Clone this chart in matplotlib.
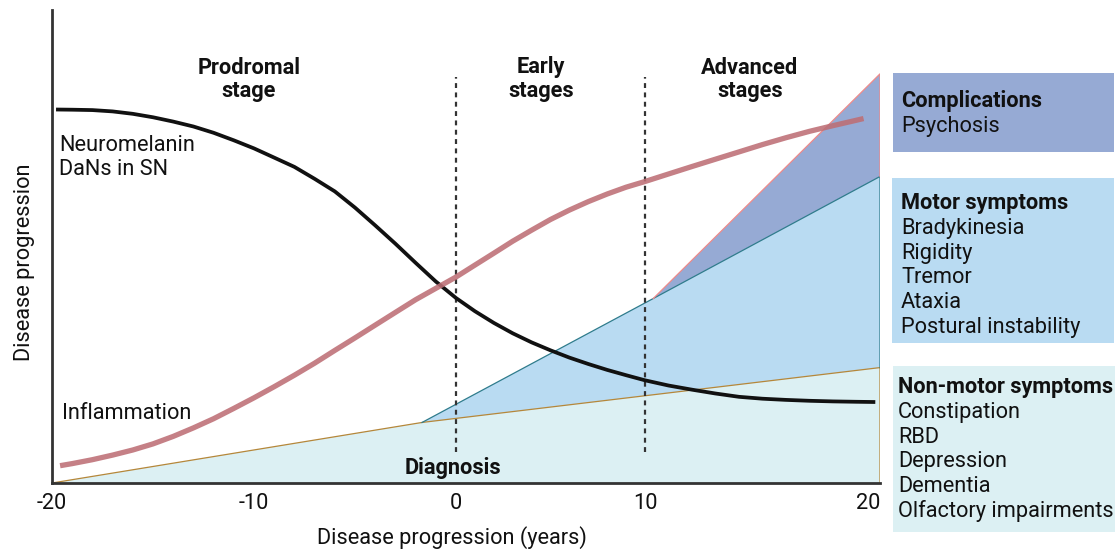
import numpy as np
import matplotlib
matplotlib.use("Agg")
import matplotlib.pyplot as plt
from matplotlib.patches import Rectangle

plt.rcParams['font.family'] = ['Roboto', 'DejaVu Sans']

# ---------------- data ----------------
tick_years = [-20, -10, 0, 10, 20]
tick_labels = ['-20', '-10', '0', '10', '20']
stage_bounds = [0, 10]

dans_x = [-19.8] + list(range(-19, 20)) + [19.8]
dans_y = [78.96, 78.92, 78.84, 78.56, 78.05, 77.32, 76.41, 75.37, 74.04, 72.45,
          70.74, 68.79, 66.83, 64.31, 61.65, 58.22, 54.46, 50.59, 46.55, 42.60,
          39.11, 36.32, 33.85, 31.65, 29.73, 28.05, 26.51, 25.16, 23.91, 22.79,
          21.71, 20.61, 19.73, 18.92, 18.22, 17.82, 17.57, 17.38, 17.25, 17.17,
          17.12]

infl_x = [-19.6] + list(range(-19, 20)) + [19.3]
infl_y = [3.66, 4.10, 4.93, 5.90, 6.98, 8.27, 9.85, 11.65, 13.59, 15.77,
          18.01, 20.36, 22.79, 25.33, 28.03, 30.68, 33.38, 36.07, 38.75, 41.15,
          43.55, 46.07, 48.58, 51.12, 53.45, 55.71, 57.70, 59.49, 61.10, 62.54,
          63.74, 65.33, 66.91, 68.46, 70.00, 71.55, 73.00, 74.35, 75.55, 76.70,
          77.05]

nonmotor_x = [-20, -1.68, 20]
nonmotor_y = [0, 12.8, 24.4]
motor_x = [-1.68, 10.35, 20]
motor_y = [12.8, 39.0, 64.8]
compl_x = [10.35, 20]
compl_y = [39.0, 86.5]

boxes = [
    ("Complications", ["Psychosis"]),
    ("Motor symptoms", ["Bradykinesia", "Rigidity", "Tremor", "Ataxia", "Postural instability"]),
    ("Non-motor symptoms", ["Constipation", "RBD", "Depression", "Dementia", "Olfactory impairments"]),
]

# ---------------- style ----------------
W, H = 1118, 550
C_COMPL, C_MOTOR, C_NONMOTOR = '#96aad4', '#b9dbf2', '#dcf0f3'
E_COMPL, E_MOTOR, E_NONMOTOR = '#ee8a8a', '#2f7c8c', '#b5873a'
FS = 15.7

# piecewise axis scale as drawn in the reference
KNOT_PIX = [0, 202, 404, 593, 828]
def fwd(x):
    return np.interp(x, tick_years, KNOT_PIX)
def inv(p):
    return np.interp(p, KNOT_PIX, tick_years)

fig = plt.figure(figsize=(W / 100, H / 100), dpi=100)
L, R, B, T = 52, 880, 483, 10
ax = fig.add_axes([L / W, 1 - B / H, (R - L) / W, (B - T) / H])
ax.set_xscale('function', functions=(fwd, inv))
ax.set_xlim(-20, 20)
ax.set_ylim(0, 100)

# fills
ax.fill(nonmotor_x + [20], nonmotor_y + [0], color=C_NONMOTOR, lw=0, zorder=1)
ax.fill(motor_x + nonmotor_x[::-1][:2], motor_y + nonmotor_y[::-1][:2], color=C_MOTOR, lw=0, zorder=1)
ax.fill(compl_x + [motor_x[-1], motor_x[-2]], compl_y + [motor_y[-1], motor_y[-2]], color=C_COMPL, lw=0, zorder=1)

ax.plot(nonmotor_x + [20], nonmotor_y + [0], color=E_NONMOTOR, lw=0.9, zorder=2)
ax.plot(motor_x + [20], motor_y + [nonmotor_y[-1]], color=E_MOTOR, lw=0.9, zorder=2)
ax.plot(compl_x + [20], compl_y + [motor_y[-1]], color=E_COMPL, lw=0.9, zorder=2)

# stage boundaries
ax.vlines(stage_bounds, 6.6, 85.8, colors='#333333', lw=1.6, linestyles=(0, (2.2, 2.0)), zorder=3)

# curves
ax.plot(dans_x, dans_y, color='#111111', lw=2.7, solid_capstyle='butt', zorder=4)
ax.plot(infl_x, infl_y, color='#bd6e75', alpha=0.88, lw=3.8, solid_capstyle='butt', zorder=5)

# spines and ticks
for s in ['top', 'right']:
    ax.spines[s].set_visible(False)
for s in ['left', 'bottom']:
    ax.spines[s].set_color('#333333')
    ax.spines[s].set_linewidth(2.0)
ax.set_yticks([])
ax.set_xticks(tick_years)
ax.set_xticklabels(tick_labels, fontsize=FS, color='#111111')
ax.tick_params(axis='x', length=0, pad=7)
ax.get_xticklabels()[-1].set_ha('right')
ax.set_xlabel('Disease progression (years)', fontsize=FS, color='#111111')
ax.xaxis.set_label_coords((452 - L) / (R - L), -0.091)
ax.set_ylabel('Disease progression', fontsize=FS, color='#111111')
ax.yaxis.set_label_coords(-0.020, (B - 262) / (B - T))

def px(x, y):
    return x / W, 1 - y / H

# in-plot text
def ftext(x, y, s, **kw):
    kw.setdefault('fontsize', FS)
    kw.setdefault('color', '#111111')
    fig.text(*px(x, y), s, va='baseline', **kw)

ftext(249, 73.5, 'Prodromal', ha='center', fontweight='bold')
ftext(249, 97, 'stage', ha='center', fontweight='bold')
ftext(541, 73.5, 'Early', ha='center', fontweight='bold')
ftext(541, 97, 'stages', ha='center', fontweight='bold')
ftext(750, 73.5, 'Advanced', ha='center', fontweight='bold')
ftext(750, 97, 'stages', ha='center', fontweight='bold')
ftext(59, 151.5, 'Neuromelanin', ha='left')
ftext(59, 175, 'DaNs in SN', ha='left')
ftext(62, 419, 'Inflammation', ha='left')
ftext(453, 474, 'Diagnosis', ha='center', fontweight='bold')

# side boxes
box_geo = [(893, 73, 1114, 152, C_COMPL, 901, 107),
           (892, 178, 1114, 343, C_MOTOR, 901, 209),
           (893, 366, 1115, 532, C_NONMOTOR, 898, 393)]
for (title, items), (x0, y0, x1, y1, col, tx, ty) in zip(boxes, box_geo):
    fig.add_artist(Rectangle(px(x0, y1), (x1 - x0) / W, (y1 - y0) / H,
                             transform=fig.transFigure, color=col, lw=0, zorder=0))
    ftext(tx, ty, title, ha='left', fontweight='bold')
    for i, it in enumerate(items):
        ftext(tx, ty + 24.8 * (i + 1), it, ha='left')

fig.savefig('out.png', dpi=100)
